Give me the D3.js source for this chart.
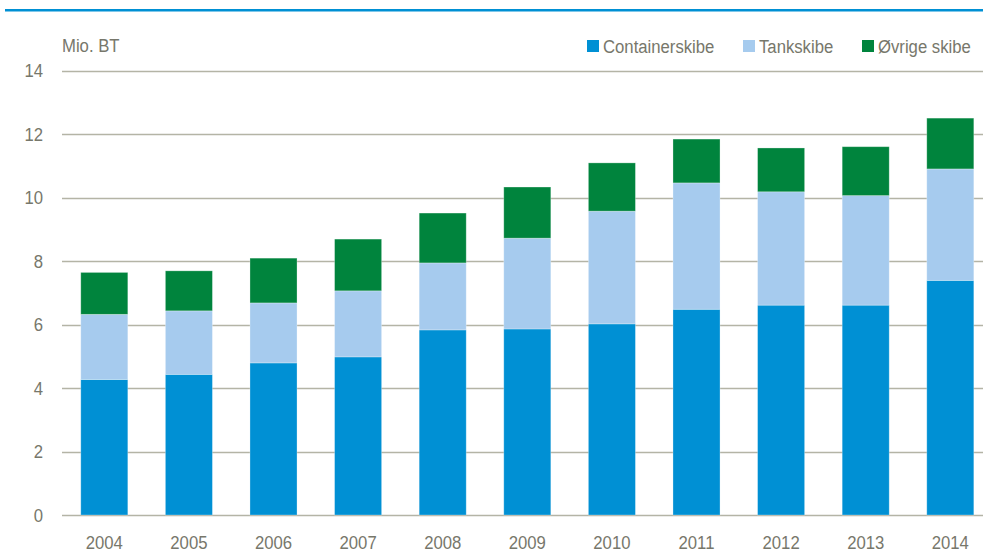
<!DOCTYPE html>
<html>
<head>
<meta charset="utf-8">
<script src="https://cdn.jsdelivr.net/npm/d3@7"></script>
<style>
  html, body { margin: 0; padding: 0; background: #fff; }
  svg { display: block; font-family: "Liberation Sans Narrow", "Arial Narrow", "Liberation Sans", sans-serif; }
</style>
</head>
<body>
<div id="chart"></div>
<script>
const years = ['2004', '2005', '2006', '2007', '2008', '2009', '2010', '2011', '2012', '2013', '2014'];
const containerskibe = [4.27, 4.43, 4.79, 4.98, 5.83, 5.86, 6.02, 6.48, 6.61, 6.61, 7.39];
const tankskibe = [2.05, 2.00, 1.89, 2.08, 2.11, 2.86, 3.55, 3.98, 3.57, 3.45, 3.51];
const oevrige = [1.32, 1.26, 1.41, 1.63, 1.57, 1.61, 1.52, 1.38, 1.38, 1.54, 1.60];
const seriesNames = ['Containerskibe', 'Tankskibe', 'Øvrige skibe'];
const yTicks = [0, 2, 4, 6, 8, 10, 12, 14];

const W = 983, H = 555;
const colors = ['#0090d4', '#a6cbee', '#00843d'];
const textCol = '#77776b';
const gridCol = '#b4b4a6';
const sx = 0.88; // smal skrift

const svg = d3.select('#chart').append('svg')
    .attr('width', W)
    .attr('height', H);

// placér tekst med vandret komprimering
function place(sel, fx, fy) {
    return sel.attr('transform', (d, i) => `translate(${fx(d, i)},${fy(d, i)}) scale(${sx},1)`);
}

// blå linje under (afskåret) overskrift
svg.append('rect').attr('x', 5).attr('y', 9).attr('width', W).attr('height', 2.5).attr('fill', '#0090d4');

const rows = years.map((yr, i) => ({
    year: yr,
    Containerskibe: containerskibe[i],
    Tankskibe: tankskibe[i],
    'Øvrige skibe': oevrige[i]
}));

const x = d3.scaleBand().domain(years).range([62, 992.6]).paddingInner(0.444).paddingOuter(0.222);
const y = d3.scaleLinear().domain([0, 14]).range([515, 70.5]);

// gitterlinjer
svg.append('g')
    .selectAll('line')
    .data(yTicks)
    .join('line')
    .attr('x1', 62).attr('x2', W)
    .attr('y1', d => Math.round(y(d)) + 0.5).attr('y2', d => Math.round(y(d)) + 0.5)
    .attr('stroke', gridCol)
    .attr('stroke-width', 1.3);

place(svg.append('g')
    .selectAll('text')
    .data(yTicks)
    .join('text'), () => 43, d => y(d))
    .attr('dy', '0.35em')
    .attr('text-anchor', 'end')
    .attr('fill', textCol)
    .attr('font-size', 19)
    .text(d => d);

place(svg.append('text'), () => 62, () => 52)
    .attr('fill', textCol)
    .attr('font-size', 19)
    .text('Mio. BT');

const stack = d3.stack().keys(seriesNames)(rows);

svg.append('g')
    .selectAll('g')
    .data(stack)
    .join('g')
    .attr('fill', (d, i) => colors[i])
    .selectAll('rect')
    .data(d => d)
    .join('rect')
    .attr('x', d => x(d.data.year))
    .attr('y', d => y(d[1]))
    .attr('width', x.bandwidth())
    .attr('height', d => y(d[0]) - y(d[1]))
    .attr('stroke', '#fff')
    .attr('stroke-opacity', 0.35)
    .attr('stroke-width', 0.8);

// x-akse etiketter
place(svg.append('g')
    .selectAll('text')
    .data(years)
    .join('text'), d => x(d) + x.bandwidth() / 2, () => 549)
    .attr('text-anchor', 'middle')
    .attr('fill', textCol)
    .attr('font-size', 19)
    .text(d => d);

// forklaring
const legendX = [587, 743, 862];
const legend = svg.append('g')
    .selectAll('g')
    .data(seriesNames)
    .join('g')
    .attr('transform', (d, i) => `translate(${legendX[i]},40)`);
legend.append('rect').attr('width', 12).attr('height', 12).attr('fill', (d, i) => colors[i]);
place(legend.append('text'), () => 16, () => 13)
    .attr('fill', textCol)
    .attr('font-size', 19)
    .text(d => d);
</script>
</body>
</html>
